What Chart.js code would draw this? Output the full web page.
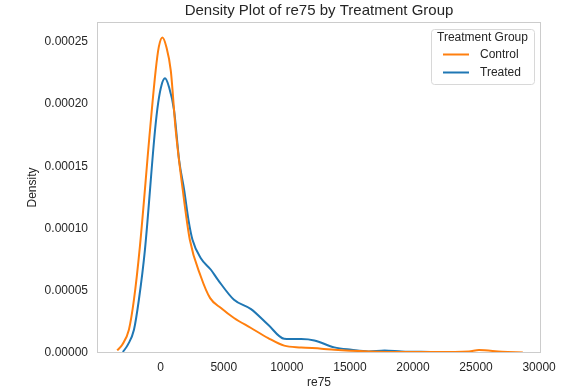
<!DOCTYPE html>
<html>
<head>
<meta charset="utf-8">
<script src="https://cdn.jsdelivr.net/npm/chart.js@4"></script>
<style>
  html, body { margin: 0; padding: 0; background: #fff; }
  #wrap { width: 571px; height: 390px; }
</style>
</head>
<body>
<div id="wrap"><canvas id="densityChart"></canvas></div>
<script>
// Density estimates
const controlX = [-3450, -3050, -2520, -2120, -1650, -850, -400, -150, 135, 450, 800, 1190, 1750, 2310, 3180, 3920, 4780, 5810, 7160, 8520, 9790, 11140, 12740, 13770, 16480, 19100, 21730, 24440, 25230, 27060, 28710];
const controlY = [0.0000021, 0.0000067, 0.0000187, 0.0000428, 0.0000855, 0.000179, 0.000227, 0.000246, 0.0002536, 0.000246, 0.000227, 0.000179, 0.000131, 0.000091, 0.0000615, 0.0000441, 0.0000361, 0.0000281, 0.0000201, 0.000012, 0.0000059, 0.0000045, 0.0000035, 0.0000026, 0.0000013, 0.0000008, 0.0000008, 0.0000013, 0.0000024, 0.000001, 0.0000005];

const treatedX = [-3000, -2600, -2120, -1730, -1250, -450, -200, 60, 340, 650, 1060, 1460, 1860, 2200, 2520, 3180, 3980, 4540, 5810, 7160, 8520, 9790, 11140, 12180, 13770, 15120, 16480, 17750, 19100, 21410];
const treatedY = [0.0000008, 0.0000067, 0.0000187, 0.0000428, 0.0000829, 0.000179, 0.000201, 0.000215, 0.0002207, 0.000214, 0.000195, 0.000155, 0.000131, 0.000107, 0.000091, 0.0000762, 0.0000669, 0.0000588, 0.0000428, 0.0000353, 0.0000227, 0.0000115, 0.0000112, 0.0000101, 0.0000045, 0.0000026, 0.0000013, 0.0000021, 0.0000013, 0.0000008];

const xTicks = [0, 5000, 10000, 15000, 20000, 25000, 30000];
const yTicks = [0, 0.00005, 0.0001, 0.00015, 0.0002, 0.00025];

const seriesNames = ['Control', 'Treated'];
const seriesColors = ['#ff7f0e', '#1f77b4'];

const textColor = '#262626';
const fontFamily = '"Liberation Sans", Arial, sans-serif';

function toPoints(xs, ys) {
    return xs.map((x, i) => ({ x: x, y: ys[i] }));
}

// frame around the plot area + boxed legend with title
const framePlugin = {
    id: 'frame',
    afterDraw(chart) {
        const { ctx, chartArea: a } = chart;
        ctx.save();
        ctx.strokeStyle = '#cccccc';
        ctx.lineWidth = 1;
        ctx.strokeRect(a.left + 0.5, a.top + 0.5, a.right - a.left - 1, a.bottom - a.top - 1);

        // legend
        const bx = a.right - 110, by = a.top + 7, bw = 103, bh = 55;
        ctx.beginPath();
        ctx.roundRect(bx + 0.5, by + 0.5, bw, bh, 3);
        ctx.fillStyle = 'rgba(255,255,255,0.8)';
        ctx.fill();
        ctx.strokeStyle = '#d8d8d8';
        ctx.stroke();

        ctx.font = '12px ' + fontFamily;
        ctx.fillStyle = textColor;
        ctx.textAlign = 'center';
        ctx.textBaseline = 'middle';
        ctx.fillText('Treatment Group', bx + bw / 2, by + 9);

        chart.data.datasets.forEach((ds, i) => {
            const ly = by + 25.5 + i * 18;
            ctx.strokeStyle = ds.borderColor;
            ctx.lineWidth = 2;
            ctx.beginPath();
            ctx.moveTo(bx + 12, ly);
            ctx.lineTo(bx + 38, ly);
            ctx.stroke();
            ctx.fillStyle = textColor;
            ctx.textAlign = 'left';
            ctx.fillText(ds.label, bx + 49, ly);
        });
        ctx.restore();
    }
};

new Chart(document.getElementById('densityChart'), {
    type: 'scatter',
    data: {
        datasets: [
            {
                label: seriesNames[0],
                data: toPoints(controlX, controlY),
                borderColor: seriesColors[0],
                backgroundColor: seriesColors[0],
                showLine: true,
                borderWidth: 2,
                pointRadius: 0,
                cubicInterpolationMode: 'monotone'
            },
            {
                label: seriesNames[1],
                data: toPoints(treatedX, treatedY),
                borderColor: seriesColors[1],
                backgroundColor: seriesColors[1],
                showLine: true,
                borderWidth: 2,
                pointRadius: 0,
                cubicInterpolationMode: 'monotone'
            }
        ]
    },
    options: {
        responsive: true,
        maintainAspectRatio: false,
        animation: false,
        layout: { padding: { left: 0, right: 30, top: 0, bottom: 0 } },
        plugins: {
            legend: { display: false },
            tooltip: { enabled: false },
            title: {
                display: true,
                text: 'Density Plot of re75 by Treatment Group',
                fullSize: false,
                color: textColor,
                font: { family: fontFamily, size: 15, weight: 'normal' },
                padding: { top: 2, bottom: 2 }
            }
        },
        scales: {
            x: {
                type: 'linear',
                min: -5050,
                max: 30150,
                afterBuildTicks: axis => { axis.ticks = xTicks.map(v => ({ value: v })); },
                afterFit: axis => { axis.height = 37; },
                grid: { display: false, drawTicks: false },
                border: { display: false },
                ticks: {
                    color: textColor,
                    padding: 7,
                    maxRotation: 0,
                    font: { family: fontFamily, size: 12 },
                    callback: v => String(v)
                },
                title: {
                    display: true,
                    text: 're75',
                    color: textColor,
                    font: { family: fontFamily, size: 12 },
                    padding: { top: 4, bottom: 0 }
                }
            },
            y: {
                min: 0,
                max: 0.000266,
                afterBuildTicks: axis => { axis.ticks = yTicks.map(v => ({ value: v })); },
                afterFit: axis => { axis.width = 97; },
                grid: { display: false, drawTicks: false },
                border: { display: false },
                ticks: {
                    color: textColor,
                    padding: 9,
                    font: { family: fontFamily, size: 12 },
                    callback: v => v.toFixed(5)
                },
                title: {
                    display: true,
                    text: 'Density',
                    color: textColor,
                    font: { family: fontFamily, size: 12 },
                    padding: { top: 25, bottom: 0 }
                }
            }
        }
    },
    plugins: [framePlugin]
});
</script>
</body>
</html>
